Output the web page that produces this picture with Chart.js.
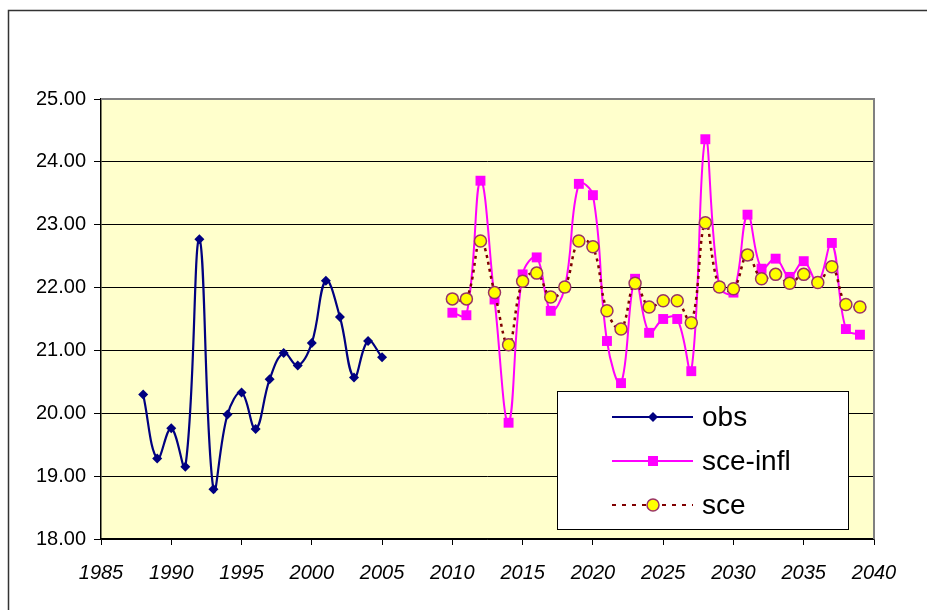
<!DOCTYPE html>
<html>
<head>
<meta charset="utf-8">
<script src="https://cdn.jsdelivr.net/npm/chart.js@4"></script>
<style>
  body { margin: 0; background: #fff; }
  #wrap { position: relative; width: 927px; height: 610px; }
</style>
</head>
<body>
<div id="wrap"><canvas id="myChart" width="927" height="610"></canvas></div>
<script>
var obsYears = [1988, 1989, 1990, 1991, 1992, 1993, 1994, 1995, 1996, 1997, 1998, 1999, 2000, 2001, 2002, 2003, 2004, 2005];
var obsValues = [20.30, 19.28, 19.76, 19.15, 22.77, 18.79, 19.98, 20.33, 19.75, 20.54, 20.96, 20.76, 21.12, 22.11, 21.53, 20.57, 21.15, 20.89];

var sceYears = [2010, 2011, 2012, 2013, 2014, 2015, 2016, 2017, 2018, 2019, 2020, 2021, 2022, 2023, 2024,
  2025, 2026, 2027, 2028, 2029, 2030, 2031, 2032, 2033, 2034, 2035, 2036, 2037, 2038, 2039];
var sceInflValues = [21.60, 21.56, 23.70, 21.81, 19.85, 22.21, 22.48, 21.63, 22.00, 23.65, 23.47, 21.15, 20.48, 22.14, 21.28,
  21.50, 21.50, 20.67, 24.36, 22.01, 21.92, 23.16, 22.30, 22.46, 22.17, 22.42, 22.08, 22.71, 21.34, 21.25];
var sceValues = [21.82, 21.82, 22.74, 21.92, 21.09, 22.10, 22.23, 21.85, 22.01, 22.74, 22.65, 21.63, 21.34, 22.07, 21.69,
  21.79, 21.79, 21.44, 23.03, 22.01, 21.98, 22.52, 22.14, 22.21, 22.07, 22.21, 22.08, 22.33, 21.73, 21.69];

var xTicks = [1985, 1990, 1995, 2000, 2005, 2010, 2015, 2020, 2025, 2030, 2035, 2040];
var yTicks = [18, 19, 20, 21, 22, 23, 24, 25];

function pairs(xs, ys) {
  return xs.map(function (x, i) { return { x: x, y: ys[i] }; });
}

var font = "'Liberation Sans', Arial, sans-serif";

// plot background, frame, outer border and the boxed legend
var excelLook = {
  id: "excelLook",
  beforeDraw: function (chart) {
    var c = chart.ctx, a = chart.chartArea;
    c.save();
    c.fillStyle = "#ffffff";
    c.fillRect(0, 0, chart.width, chart.height);
    c.fillStyle = "#FFFFCC";
    c.fillRect(a.left, a.top, a.right - a.left, a.bottom - a.top);
    c.strokeStyle = "#333333";
    c.lineWidth = 1.5;
    c.strokeRect(8.5, 10.5, 940, 620);
    c.restore();
  },
  afterDatasetsDraw: function (chart) {
    var c = chart.ctx, a = chart.chartArea;
    c.save();
    c.strokeStyle = "#808080";
    c.lineWidth = 2;
    c.beginPath();
    c.moveTo(a.left, a.top);
    c.lineTo(a.right, a.top);
    c.lineTo(a.right, a.bottom);
    c.stroke();

    // legend
    var lx = 557, ly = 391, lw = 291, lh = 138;
    c.fillStyle = "#ffffff";
    c.fillRect(lx, ly, lw, lh);
    c.strokeStyle = "#000000";
    c.lineWidth = 1;
    c.strokeRect(lx + 0.5, ly + 0.5, lw, lh);

    var rows = [417, 461, 505];
    var x0 = 612, x1 = 693, xm = 653;
    c.font = "28px " + font;
    c.textBaseline = "middle";
    c.textAlign = "left";

    // obs
    c.strokeStyle = "#000080";
    c.lineWidth = 2;
    c.beginPath(); c.moveTo(x0, rows[0]); c.lineTo(x1, rows[0]); c.stroke();
    c.fillStyle = "#000080";
    c.beginPath();
    c.moveTo(xm, rows[0] - 5); c.lineTo(xm + 5, rows[0]); c.lineTo(xm, rows[0] + 5); c.lineTo(xm - 5, rows[0]);
    c.closePath(); c.fill();

    // sce-infl
    c.strokeStyle = "#FF00FF";
    c.beginPath(); c.moveTo(x0, rows[1]); c.lineTo(x1, rows[1]); c.stroke();
    c.fillStyle = "#FF00FF";
    c.fillRect(xm - 5, rows[1] - 5, 10, 10);

    // sce
    c.strokeStyle = "#800000";
    c.setLineDash([4, 6]);
    c.beginPath(); c.moveTo(x0, rows[2]); c.lineTo(x1, rows[2]); c.stroke();
    c.setLineDash([]);
    c.fillStyle = "#FFFF00";
    c.strokeStyle = "#993366";
    c.lineWidth = 1.5;
    c.beginPath(); c.arc(xm, rows[2], 6, 0, Math.PI * 2); c.fill(); c.stroke();

    c.fillStyle = "#000000";
    c.fillText("obs", 702, rows[0] + 1);
    c.fillText("sce-infl", 702, rows[1] + 1);
    c.fillText("sce", 702, rows[2] + 1);
    c.restore();
  }
};

var ctx = document.getElementById("myChart").getContext("2d");
var myChart = new Chart(ctx, {
  type: "line",
  data: {
    datasets: [
      {
        label: "sce",
        data: pairs(sceYears, sceValues),
        borderColor: "#800000",
        borderWidth: 2.5,
        borderDash: [3, 4],
        pointStyle: "circle",
        pointRadius: 6,
        pointBackgroundColor: "#FFFF00",
        pointBorderColor: "#993366",
        pointBorderWidth: 1.5,
        tension: 0.4,
        order: 0,
      },
      {
        label: "sce-infl",
        data: pairs(sceYears, sceInflValues),
        borderColor: "#FF00FF",
        borderWidth: 2,
        pointStyle: "rect",
        pointRadius: 7,
        pointBackgroundColor: "#FF00FF",
        pointBorderColor: "#FF00FF",
        pointBorderWidth: 0,
        tension: 0.4,
        order: 1,
      },
      {
        label: "obs",
        data: pairs(obsYears, obsValues),
        borderColor: "#000080",
        borderWidth: 2.2,
        pointStyle: "rectRot",
        pointRadius: 5,
        pointBackgroundColor: "#000080",
        pointBorderColor: "#000080",
        pointBorderWidth: 0,
        tension: 0.4,
        order: 2,
      },
    ],
  },
  options: {
    responsive: false,
    animation: false,
    devicePixelRatio: 1,
    layout: { padding: { left: 0, top: 99, right: 53, bottom: 0 } },
    plugins: {
      legend: { display: false },
      tooltip: { enabled: false },
    },
    scales: {
      x: {
        type: "linear",
        min: 1985,
        max: 2040,
        afterFit: function (scale) { scale.height = 71; },
        afterBuildTicks: function (scale) {
          scale.ticks = xTicks.map(function (v) { return { value: v }; });
        },
        ticks: {
          color: "#000000",
          padding: 16,
          maxRotation: 0,
          autoSkip: false,
          font: { family: font, size: 20, style: "italic" },
          callback: function (v) { return String(v); },
        },
        grid: {
          drawOnChartArea: false,
          drawTicks: true,
          tickLength: 6,
          color: "#000000",
        },
        border: { color: "#000000", width: 1.5 },
      },
      y: {
        min: 18,
        max: 25,
        afterFit: function (scale) { scale.width = 101; },
        afterBuildTicks: function (scale) {
          scale.ticks = yTicks.map(function (v) { return { value: v }; });
        },
        ticks: {
          color: "#000000",
          padding: 8,
          font: { family: font, size: 20 },
          callback: function (v) { return v.toFixed(2); },
        },
        grid: {
          color: "#000000",
          lineWidth: 1,
          tickLength: 7,
        },
        border: { color: "#000000", width: 1.5 },
      },
    },
  },
  plugins: [excelLook],
});
</script>
</body>
</html>
